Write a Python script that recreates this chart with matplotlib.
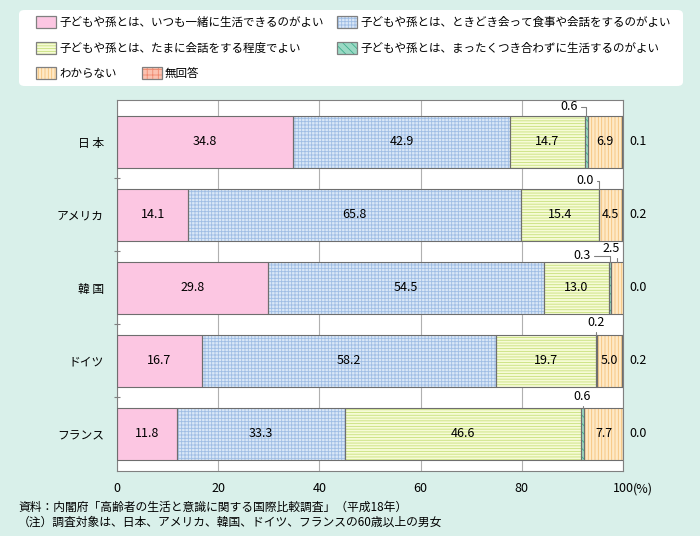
import numpy as np
import matplotlib
matplotlib.use("Agg")
import matplotlib.pyplot as plt
from matplotlib.patches import FancyBboxPatch, Rectangle

plt.rcParams['font.family'] = ['Noto Sans CJK JP', 'DejaVu Sans']
plt.rcParams['hatch.linewidth'] = 0.6

# data
countries = ['日 本', 'アメリカ', '韓 国', 'ドイツ', 'フランス']
categories = ['子どもや孫とは、いつも一緒に生活できるのがよい',
              '子どもや孫とは、ときどき会って食事や会話をするのがよい',
              '子どもや孫とは、たまに会話をする程度でよい',
              '子どもや孫とは、まったくつき合わずに生活するのがよい',
              'わからない',
              '無回答']
always = [34.8, 14.1, 29.8, 16.7, 11.8]
sometimes = [42.9, 65.8, 54.5, 58.2, 33.3]
rarely = [14.7, 15.4, 13.0, 19.7, 46.6]
never = [0.6, 0.0, 0.3, 0.2, 0.6]
dont_know = [6.9, 4.5, 2.5, 5.0, 7.7]
no_answer = [0.1, 0.2, 0.0, 0.2, 0.0]
xticks = [0, 20, 40, 60, 80, 100]

series = [always, sometimes, rarely, never, dont_know, no_answer]

# style: (facecolor, hatch, hatchcolor)
styles = [('#fcc6e2', '', '#fcc6e2'),
          ('#d9e7f7', '+++++', '#9fbde4'),
          ('#f6fbd6', '------', '#c8e07c'),
          ('#9ad9c4', '\\\\\\\\', '#3fae8c'),
          ('#fee9c6', '|||||', '#f5c27a'),
          ('#fbc2b0', '+++', '#f08a70')]
edge = '#6e6e6e'
bg = '#d9f0ea'

# small labels: (row, segment, dx px, dy px)
small_labels = [(0, 3, -17, 9), (1, 3, -14, 8), (2, 3, -28, 6),
                (2, 4, -6, 13), (3, 3, 0, 12), (4, 3, 0, 11)]

fig = plt.figure(figsize=(7.0, 5.36), dpi=100, facecolor=bg)
ax = fig.add_axes([117/700, 1-471/536, 506/700, 371/536])
ax.set_facecolor('white')

y = np.arange(len(countries))
h = 0.712
left = np.zeros(len(countries))
for vals, (fc, hatch, hc) in zip(series, styles):
    vals = np.array(vals)
    ax.barh(y, vals, h, left=left, color=fc, edgecolor=hc, hatch=hatch,
            linewidth=0, zorder=2)
    ax.barh(y, vals, h, left=left, color='none', edgecolor=edge,
            linewidth=0.8, zorder=3)
    left = left + vals

# labels inside bars
cum = np.cumsum(np.array(series), axis=0)
for s, vals in enumerate(series[:5]):
    for i, v in enumerate(vals):
        if v >= 4:
            xc = cum[s][i] - v / 2
            ax.text(xc, y[i], f'{v:.1f}', ha='center', va='center',
                    fontsize=9, zorder=4)

px = 0.72
for row, s, dx, dy in small_labels:
    v = series[s][row]
    xc = cum[s][row] - v / 2
    ax.annotate(f'{v:.1f}', xy=(xc, y[row] - h / 2),
                xytext=(dx * px, dy * px), textcoords='offset points',
                ha='center', va='center', fontsize=9, zorder=5,
                arrowprops=dict(arrowstyle='-', color='#808080', lw=0.8,
                                shrinkA=0, shrinkB=0,
                                connectionstyle='angle,angleA=0,angleB=90,rad=0'),
                annotation_clip=False)

for i, v in enumerate(no_answer):
    ax.annotate(f'{v:.1f}', xy=(100, y[i]), xytext=(6 * px, 0),
                textcoords='offset points', ha='left', va='center',
                fontsize=9, annotation_clip=False)

ax.set_xlim(0, 100)
ax.set_ylim(4.507, -0.575)
ax.set_xticks(xticks)
ax.set_xticklabels([str(t) for t in xticks], fontsize=9)
ax.tick_params(axis='x', length=0, pad=8)
ax.annotate('(%)', xy=(100, 0), xycoords=ax.get_xaxis_transform(),
            xytext=(10 * px, -8), textcoords='offset points',
            ha='left', va='top', fontsize=9, annotation_clip=False)
ax.set_yticks(y)
ax.set_yticklabels(countries, fontsize=8.5)
ax.set_yticks(y[:-1] + 0.5, minor=True)
ax.tick_params(axis='y', which='major', length=0, pad=9.5)
ax.tick_params(axis='y', which='minor', length=4, direction='inout',
               color='#808080', width=0.8)
ax.xaxis.grid(True, color='#b0b0b0', lw=0.8, zorder=0)
ax.set_axisbelow(True)
for sp in ax.spines.values():
    sp.set_color('#808080')
    sp.set_linewidth(0.8)

# legend box
W, H = 700, 536
fig.patches.append(FancyBboxPatch((19/W, 1-86/H), (683-19)/W, (86-10)/H,
                                  boxstyle='round,pad=0,rounding_size=0.008',
                                  transform=fig.transFigure, facecolor='white',
                                  edgecolor='none', zorder=0))
leg_pos = [(36, 22), (337, 22), (36, 48), (337, 48), (36, 73), (142, 73)]
for (lx, ly), name, (fc, hatch, hc) in zip(leg_pos, categories, styles):
    fig.patches.append(Rectangle((lx/W, 1-(ly+6)/H), 20/W, 12/H,
                                 transform=fig.transFigure, facecolor=fc,
                                 edgecolor=hc, hatch=hatch, linewidth=0))
    fig.patches.append(Rectangle((lx/W, 1-(ly+6)/H), 20/W, 12/H,
                                 transform=fig.transFigure, facecolor='none',
                                 edgecolor='#808080', linewidth=0.9))
    fig.text((lx+23)/W, 1-ly/H, name, ha='left', va='center', fontsize=8.3)

fig.text(18/W, 1-507/H, '資料：内閣府「高齢者の生活と意識に関する国際比較調査」（平成18年）',
         ha='left', va='center', fontsize=8.5)
fig.text(18/W, 1-522/H, '（注）調査対象は、日本、アメリカ、韓国、ドイツ、フランスの60歳以上の男女',
         ha='left', va='center', fontsize=8.5)

fig.savefig('out.png', dpi=100, facecolor=bg)
